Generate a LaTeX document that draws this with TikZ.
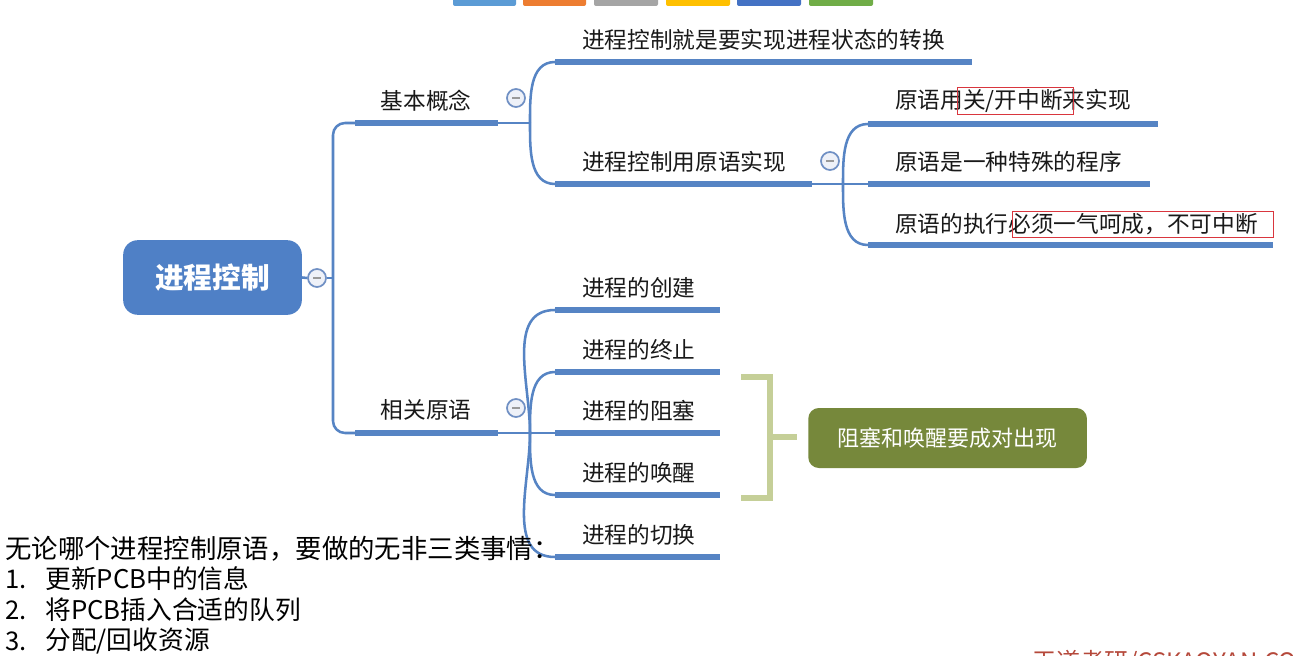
\documentclass[tikz,border=0pt]{standalone}
\usepackage{fontspec}
\setmainfont{Noto Sans CJK SC}
\definecolor{lineblue}{HTML}{5684C4}
\definecolor{rootblue}{HTML}{4F80C6}
\definecolor{foldblue}{HTML}{7090C4}
\definecolor{foldfill}{HTML}{EEF1F8}
\definecolor{brgreen}{HTML}{C5CF98}
\definecolor{boxgreen}{HTML}{76883B}
\definecolor{redbox}{HTML}{D9363E}
\definecolor{wmred}{HTML}{B5483A}
\definecolor{tb1}{HTML}{5B9BD5}
\definecolor{tb2}{HTML}{ED7D31}
\definecolor{tb3}{HTML}{A5A5A5}
\definecolor{tb4}{HTML}{FFC000}
\definecolor{tb5}{HTML}{4472C4}
\definecolor{tb6}{HTML}{70AD47}
\newcommand\fsz[1]{\fontsize{#1}{#1}\selectfont}
\begin{document}
\begin{tikzpicture}[x=0.75pt,y=-0.75pt,
  thinline/.style={draw=lineblue, line width=1.9pt},
  bar/.style={draw=lineblue, line width=4.6pt},
  lbl/.style={font=\fsz{17}, anchor=west, inner sep=0pt, text=black!90},
  clbl/.style={font=\fsz{17}, inner sep=0pt, text=black!90},
  fold/.style={circle, draw=foldblue, line width=1.3pt, fill=foldfill, minimum size=13.5pt, inner sep=0pt,
    path picture={\draw[gray!80, line width=1.2pt] ([xshift=-3pt]path picture bounding box.center) -- ([xshift=3pt]path picture bounding box.center);}},
  rbox/.style={draw=redbox, line width=0.7pt},
  tbar/.style={rounded corners=1.5pt},
  listtxt/.style={font=\fsz{19.3}, anchor=west, inner sep=0pt, text=black}
]
\useasboundingbox (0,0) rectangle (1293,656);
\fill[white] (0,0) rectangle (1293,656);

% top colour strip
\fill[tbar,tb1] (453,-4) rectangle (516,6);
\fill[tbar,tb2] (523,-4) rectangle (586,6);
\fill[tbar,tb3] (594,-4) rectangle (658,6);
\fill[tbar,tb4] (666,-4) rectangle (730,6);
\fill[tbar,tb5] (737,-4) rectangle (801,6);
\fill[tbar,tb6] (809,-4) rectangle (873,6);

% root
\node[fill=rootblue, rounded corners=11pt, minimum width=134pt, minimum height=56pt, text=white,
  font=\fsz{21.5}\bfseries] (root) at (212.5,277.5) {进程控制};
\node[fold] (rf) at (317,278) {};
\coordinate (tr) at (333,278);
\draw[thinline] (root.east) -- (rf.west);
\draw[thinline] (rf.east) -- (tr);

% level 1
\coordinate (ka) at (355,123); \coordinate (kb) at (498,123);
\coordinate (xa) at (355,433); \coordinate (xb) at (498,433);
\draw[thinline, rounded corners=9pt] (ka) -- (333,123) -- (333,433) -- (xa);
\draw[bar] (ka) -- (kb);
\draw[bar] (xa) -- (xb);
\node[clbl] (kt) at (426,101) {基本概念};
\node[clbl] (xt) at (426,410) {相关原语};
\node[fold] (kf) at (516,98) {};
\node[fold] (xf) at (516,408) {};
\coordinate (kJ) at (530,123);
\coordinate (xJ) at (530,433);
\draw[thinline] (kb) -- (kJ);
\draw[thinline] (xb) -- (xJ);

% children of 基本概念
\coordinate (c1a) at (555,62); \coordinate (c1b) at (972,62);
\coordinate (c2a) at (555,184); \coordinate (c2b) at (812,184);
\draw[thinline] (kJ) to[out=90,in=180] (c1a);
\draw[thinline] (kJ) to[out=-90,in=180] (c2a);
\draw[bar] (c1a) -- (c1b);
\draw[bar] (c2a) -- (c2b);
\node[lbl] (c1t) at (582,40) {进程控制就是要实现进程状态的转换};
\node[lbl] (c2t) at (582,162) {进程控制用原语实现};
\node[fold] (c2f) at (830,161) {};
\coordinate (c2J) at (843,184);
\draw[thinline] (c2b) -- (c2J);

% children of 进程控制用原语实现
\coordinate (d1a) at (868,124); \coordinate (d1b) at (1158,124);
\coordinate (d2a) at (868,184); \coordinate (d2b) at (1150,184);
\coordinate (d3a) at (868,245); \coordinate (d3b) at (1273,245);
\draw[thinline] (c2J) to[out=90,in=180] (d1a);
\draw[thinline] (c2J) -- (d2a);
\draw[thinline] (c2J) to[out=-90,in=180] (d3a);
\draw[bar] (d1a) -- (d1b);
\draw[bar] (d2a) -- (d2b);
\draw[bar] (d3a) -- (d3b);
\node[lbl] (d1t) at (895,101) {原语用关/开中断来实现};
\node[lbl] (d2t) at (895,162) {原语是一种特殊的程序};
\node[lbl] (d3t) at (895,224) {原语的执行必须一气呵成，不可中断};
\draw[rbox] (957,87) rectangle (1073,114);
\draw[rbox] (1012,211) rectangle (1273,237);

% children of 相关原语
\foreach \n/\y/\t in {1/310/进程的创建, 2/372/进程的终止, 3/433/进程的阻塞, 4/495/进程的唤醒, 5/557/进程的切换}{
  \coordinate (e\n a) at (555,\y);
  \coordinate (e\n b) at (720,\y);
  \draw[bar] (e\n a) -- (e\n b);
  \node[lbl] (e\n t) at (582,\y-22) {\t};
}
\draw[thinline] (xJ) to[out=90,in=180] (e1a);
\draw[thinline] (xJ) to[out=90,in=180] (e2a);
\draw[thinline] (xJ) -- (e3a);
\draw[thinline] (xJ) to[out=-90,in=180] (e4a);
\draw[thinline] (xJ) to[out=-90,in=180] (e5a);

% bracket and summary
\coordinate (bt) at (741,377); \coordinate (bb) at (741,498);
\coordinate (bm) at (770,437); \coordinate (bn) at (797,437);
\draw[brgreen, line width=5.2pt] (bt) -- (770,377) -- (770,498) -- (bb);
\draw[brgreen, line width=5.2pt] (bm) -- (bn);
\node[fill=boxgreen, rounded corners=8pt, minimum width=209pt, minimum height=45pt, text=white,
  font=\fsz{16.5}, anchor=west] (sum) at (808,438) {阻塞和唤醒要成对出现};

% bottom-left note
\node[listtxt, font=\fsz{19.8}] (n0) at (5,549) {无论哪个进程控制原语，要做的无非三类事情：};
\node[listtxt] (n1) at (5,579) {1.};
\node[listtxt] (n1t) at (45,579) {更新PCB中的信息};
\node[listtxt] (n2) at (5,610) {2.};
\node[listtxt] (n2t) at (45,610) {将PCB插入合适的队列};
\node[listtxt] (n3) at (5,641) {3.};
\node[listtxt] (n3t) at (45,641) {分配/回收资源};

% watermark (cut off at the bottom edge, as in the reference)
\begin{scope}
\clip (0,0) rectangle (1293,656);
\node[anchor=north west, inner sep=0pt, text=wmred, font=\fsz{18}] (wm) at (1032,650) {王道考研/CSKAOYAN.COM};
\end{scope}
\end{tikzpicture}
\end{document}
